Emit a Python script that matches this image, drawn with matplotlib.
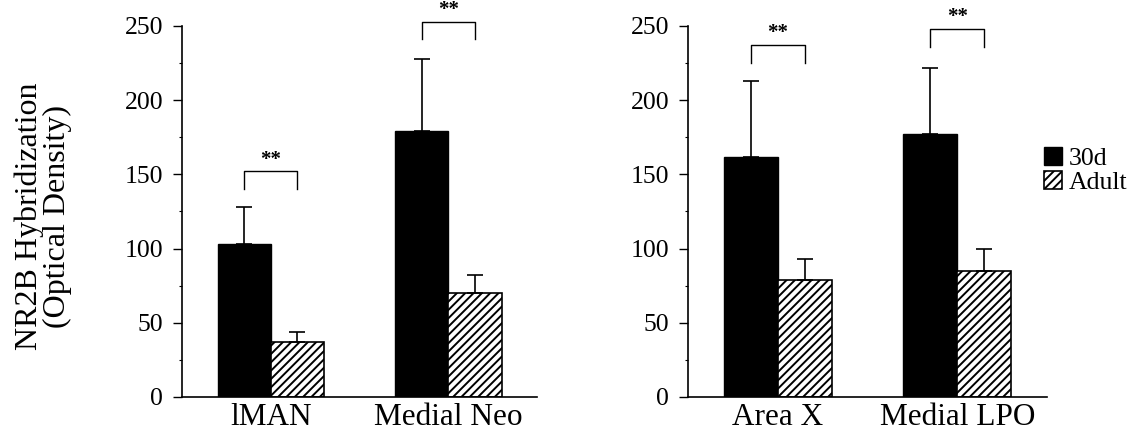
import matplotlib
matplotlib.use("Agg")
import matplotlib.pyplot as plt
import numpy as np

plt.rcParams['font.family'] = ['Liberation Serif', 'DejaVu Serif']
plt.rcParams['hatch.linewidth'] = 1.4

# Werte
regionen_links = ["lMAN", "Medial Neo"]
jung_links = [103, 179]
jung_links_fehler = [25, 49]
adult_links = [37, 70]
adult_links_fehler = [7, 12]
klammer_links = [152, 253]

regionen_rechts = ["Area X", "Medial LPO"]
jung_rechts = [162, 177]
jung_rechts_fehler = [51, 45]
adult_rechts = [79, 85]
adult_rechts_fehler = [14, 15]
klammer_rechts = [237, 248]

gruppen = ["30d", "Adult"]
y_ticks = [0, 50, 100, 150, 200, 250]

breite = 0.3

fig = plt.figure(figsize=(11.35, 4.34), dpi=100)
ax1 = fig.add_axes([0.1604, 0.0853, 0.3128, 0.8548])
ax2 = fig.add_axes([0.6062, 0.0853, 0.3163, 0.8548])


def panel(ax, namen, jung, jung_f, adult, adult_f, klammer):
    x = np.arange(len(namen))
    b1 = ax.bar(x - breite / 2, jung, breite, color="black", edgecolor="black",
                linewidth=1, zorder=2)
    b2 = ax.bar(x + breite / 2, adult, breite, color="white", edgecolor="black",
                hatch="////", linewidth=1.2, zorder=2)
    # nur nach oben gerichtete Fehlerbalken
    ax.errorbar(x - breite / 2, jung, yerr=[np.zeros(len(x)), jung_f], fmt="none",
                ecolor="black", elinewidth=1.2, capsize=6, capthick=1.2, zorder=3)
    ax.errorbar(x + breite / 2, adult, yerr=[np.zeros(len(x)), adult_f], fmt="none",
                ecolor="black", elinewidth=1.2, capsize=6, capthick=1.2, zorder=3)
    # Signifikanzklammern
    for xi, h in zip(x, klammer):
        ax.plot([xi - breite / 2, xi - breite / 2, xi + breite / 2, xi + breite / 2],
                [h - 12, h, h, h - 12], color="black", linewidth=1, clip_on=False)
        ax.text(xi, h + 8, "**", ha="center", va="center", fontsize=15,
                fontweight="bold", clip_on=False)
    ax.set_xlim(-0.5, 1.5)
    ax.set_ylim(0, 250)
    ax.set_xticks(x)
    ax.set_xticklabels(namen, fontsize=22.5)
    ax.set_yticks(y_ticks)
    ax.set_yticks(np.arange(25, 250, 50), minor=True)
    ax.tick_params(axis="y", labelsize=18.5, direction="out", length=6.5, width=1,
                   pad=7)
    ax.tick_params(axis="y", which="minor", length=2, width=0.8)
    ax.tick_params(axis="x", length=0, pad=4)
    ax.spines["top"].set_visible(False)
    ax.spines["right"].set_visible(False)
    ax.spines["left"].set_linewidth(1.2)
    ax.spines["bottom"].set_linewidth(1.2)
    return b1, b2


panel(ax1, regionen_links, jung_links, jung_links_fehler, adult_links,
      adult_links_fehler, klammer_links)
h1, h2 = panel(ax2, regionen_rechts, jung_rechts, jung_rechts_fehler, adult_rechts,
               adult_rechts_fehler, klammer_rechts)

fig.text(0.038, 0.502, "NR2B Hybridization\n(Optical Density)", fontsize=23,
         rotation=90, ha="center", va="center", linespacing=0.95)

fig.legend([h1, h2], gruppen, loc="upper left", bbox_to_anchor=(0.92, 0.662),
           frameon=False, fontsize=18.5, handlelength=0.7, handleheight=0.7,
           handletextpad=0.25, labelspacing=0.05, borderpad=0, borderaxespad=0)

fig.savefig("out.png", dpi=100)
